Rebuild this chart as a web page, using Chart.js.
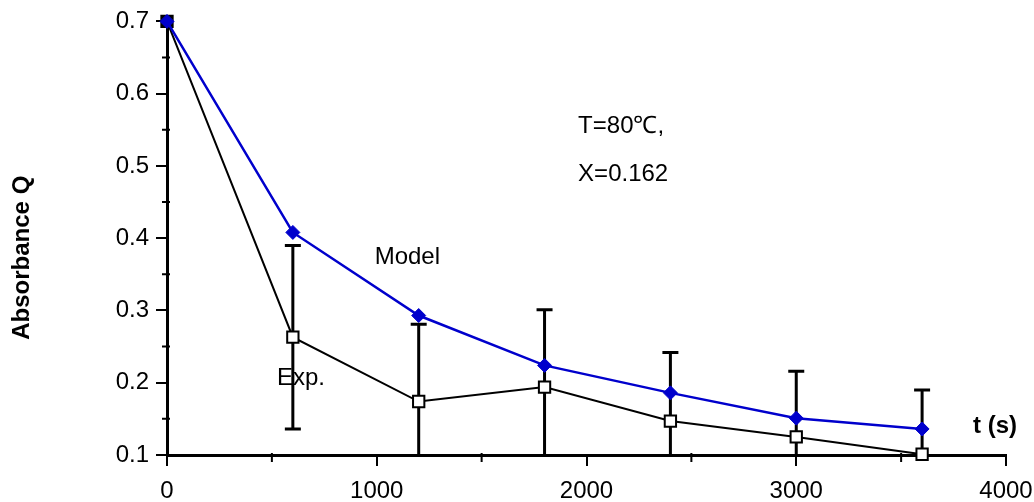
<!DOCTYPE html>
<html>
<head>
<meta charset="utf-8">
<script src="https://cdn.jsdelivr.net/npm/chart.js@4"></script>
<style>
  body { margin: 0; background: #fff; }
  #wrap { width: 1034px; height: 502px; }
</style>
</head>
<body>
<div id="wrap"><canvas id="absChart"></canvas></div>
<script>
const times = [0, 600, 1200, 1800, 2400, 3000, 3600];
const modelValues = [0.7, 0.408, 0.293, 0.224, 0.186, 0.151, 0.136];
const expValues = [0.7, 0.263, 0.174, 0.194, 0.147, 0.125, 0.101];
const expErrors = [0, 0.127, 0.107, 0.107, 0.095, 0.091, 0.089];
const xMinorTicks = [500, 1500, 2500, 3500];
const yMinorTicks = [0.15, 0.25, 0.35, 0.45, 0.55, 0.65];

const FONT = '"Liberation Sans", Arial, Helvetica, sans-serif';

function toPoints(values) {
    return times.map((t, i) => ({ x: t, y: values[i] }));
}

// error bars, minor ticks and the text notes, all placed through the scales
const extras = {
    id: 'extras',
    beforeDatasetsDraw(chart) {
        const ctx = chart.ctx;
        const x = chart.scales.x, y = chart.scales.y;
        const area = chart.chartArea;
        ctx.save();
        ctx.strokeStyle = '#000';
        ctx.lineWidth = 3;
        times.forEach((t, i) => {
            if (!expErrors[i]) return;
            const px = x.getPixelForValue(t);
            const top = y.getPixelForValue(expValues[i] + expErrors[i]);
            const lowVal = expValues[i] - expErrors[i];
            const bottom = Math.min(y.getPixelForValue(lowVal), area.bottom);
            ctx.beginPath();
            ctx.moveTo(px, top);
            ctx.lineTo(px, bottom);
            ctx.moveTo(px - 8, top);
            ctx.lineTo(px + 8, top);
            if (lowVal >= y.min) {
                ctx.moveTo(px - 8, bottom);
                ctx.lineTo(px + 8, bottom);
            }
            ctx.stroke();
        });
        ctx.restore();
    },
    afterDraw(chart) {
        const ctx = chart.ctx;
        const x = chart.scales.x, y = chart.scales.y;
        const area = chart.chartArea;
        ctx.save();
        ctx.strokeStyle = '#000';
        ctx.lineWidth = 2;
        ctx.beginPath();
        xMinorTicks.forEach(v => {
            const px = x.getPixelForValue(v);
            ctx.moveTo(px, area.bottom - 2);
            ctx.lineTo(px, area.bottom + 7);
        });
        yMinorTicks.forEach(v => {
            const py = y.getPixelForValue(v);
            ctx.moveTo(area.left - 5, py);
            ctx.lineTo(area.left + 3, py);
        });
        ctx.stroke();

        ctx.fillStyle = '#000';
        ctx.textBaseline = 'middle';
        ctx.textAlign = 'left';
        ctx.font = '24px ' + FONT;
        ctx.fillText('Model', x.getPixelForValue(990), y.getPixelForValue(0.373));
        ctx.fillText('Exp.', x.getPixelForValue(524), y.getPixelForValue(0.206));
        ctx.fillText('T=80\u2103,', x.getPixelForValue(1960), y.getPixelForValue(0.555));
        ctx.fillText('X=0.162', x.getPixelForValue(1960), y.getPixelForValue(0.489));
        ctx.font = 'bold 24px ' + FONT;
        ctx.fillText('t (s)', x.getPixelForValue(3843), y.getPixelForValue(0.139));

        ctx.translate(22, y.getPixelForValue(0.373));
        ctx.rotate(-Math.PI / 2);
        ctx.textAlign = 'center';
        ctx.fillText('Absorbance Q', 0, 0);
        ctx.restore();
    }
};

new Chart(document.getElementById('absChart').getContext('2d'), {
    type: 'line',
    data: {
        datasets: [{
            label: 'Model',
            data: toPoints(modelValues),
            borderColor: '#0000cc',
            borderWidth: 2.5,
            pointStyle: 'rectRot',
            pointRadius: 7,
            pointBorderWidth: 1,
            pointBorderColor: '#0000cc',
            pointBackgroundColor: '#0000cc',
            tension: 0,
            clip: false
        }, {
            label: 'Exp.',
            data: toPoints(expValues),
            borderColor: '#000',
            borderWidth: 2,
            pointStyle: 'rect',
            pointRadius: 8,
            pointBorderWidth: 2,
            pointBorderColor: '#000',
            pointBackgroundColor: c => (c.dataIndex === 0 ? '#000' : '#fff'),
            tension: 0,
            clip: false
        }]
    },
    options: {
        responsive: true,
        maintainAspectRatio: false,
        animation: false,
        layout: { padding: { left: 0, top: 20, right: 28, bottom: 0 } },
        plugins: {
            legend: { display: false },
            tooltip: { enabled: false }
        },
        scales: {
            x: {
                type: 'linear',
                min: 0,
                max: 4000,
                afterFit: scale => {
                    scale.height = 47;
                    scale.paddingLeft = 0;
                    scale.paddingRight = 0;
                },
                border: { color: '#000', width: 3 },
                grid: { drawOnChartArea: false, color: '#000', lineWidth: 2, tickLength: 11 },
                ticks: {
                    stepSize: 1000,
                    color: '#000',
                    padding: 11,
                    font: { family: FONT, size: 24 },
                    callback: v => String(v)
                }
            },
            y: {
                min: 0.1,
                max: 0.7,
                afterFit: scale => { scale.width = 167; },
                border: { color: '#000', width: 3 },
                grid: { drawOnChartArea: false, color: '#000', lineWidth: 2, tickLength: 11 },
                ticks: {
                    stepSize: 0.1,
                    color: '#000',
                    padding: 7,
                    font: { family: FONT, size: 24 },
                    callback: v => v.toFixed(1)
                }
            }
        }
    },
    plugins: [extras]
});
</script>
</body>
</html>
